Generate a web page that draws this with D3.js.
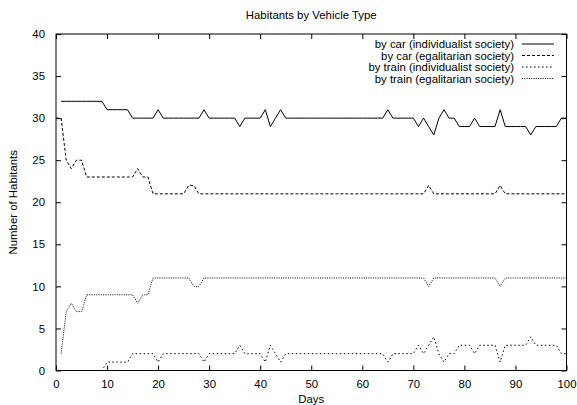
<!DOCTYPE html>
<html lang="en">
<head>
  <meta charset="UTF-8" />
  <title>Habitants by Vehicle Type</title>
  <script src="https://d3js.org/d3.v7.min.js"></script>
  <style>
    html, body {
      margin: 0;
      padding: 0;
      background: #fff;
    }
    svg text {
      font-family: "Liberation Sans", Arial, sans-serif;
      font-size: 11.4px;
      fill: #000;
    }
    .line {
      fill: none;
      stroke: #000;
      stroke-width: 1px;
    }
  </style>
</head>
<body>
<div id="chart"></div>
<script>
// days (x values) for each series
const daysCarIndiv = d3.range(1, 101);
const daysCarEgal = d3.range(0, 101);
const daysTrainIndiv = d3.range(1, 101);
const daysTrainEgal = d3.range(1, 101);

// number of habitants per day
const carIndiv = [
  32, 32, 32, 32, 32, 32, 32, 32, 32, 31,
  31, 31, 31, 31, 30, 30, 30, 30, 30, 31,
  30, 30, 30, 30, 30, 30, 30, 30, 31, 30,
  30, 30, 30, 30, 30, 29, 30, 30, 30, 30,
  31, 29, 30, 31, 30, 30, 30, 30, 30, 30,
  30, 30, 30, 30, 30, 30, 30, 30, 30, 30,
  30, 30, 30, 30, 31, 30, 30, 30, 30, 30,
  29, 30, 29, 28, 30, 31, 30, 30, 29, 29,
  29, 30, 29, 29, 29, 29, 31, 29, 29, 29,
  29, 29, 28, 29, 29, 29, 29, 29, 30, 30
];
const carEgal = [
  30,
  30, 25, 24, 25, 25, 23, 23, 23, 23, 23,
  23, 23, 23, 23, 23, 24, 23, 23, 21, 21,
  21, 21, 21, 21, 21, 22, 22, 21, 21, 21,
  21, 21, 21, 21, 21, 21, 21, 21, 21, 21,
  21, 21, 21, 21, 21, 21, 21, 21, 21, 21,
  21, 21, 21, 21, 21, 21, 21, 21, 21, 21,
  21, 21, 21, 21, 21, 21, 21, 21, 21, 21,
  21, 21, 22, 21, 21, 21, 21, 21, 21, 21,
  21, 21, 21, 21, 21, 21, 22, 21, 21, 21,
  21, 21, 21, 21, 21, 21, 21, 21, 21, 21
];
const trainIndiv = [
  0, 0, 0, 0, 0, 0, 0, 0, 0, 1,
  1, 1, 1, 1, 2, 2, 2, 2, 2, 1,
  2, 2, 2, 2, 2, 2, 2, 2, 1, 2,
  2, 2, 2, 2, 2, 3, 2, 2, 2, 2,
  1, 3, 2, 1, 2, 2, 2, 2, 2, 2,
  2, 2, 2, 2, 2, 2, 2, 2, 2, 2,
  2, 2, 2, 2, 1, 2, 2, 2, 2, 2,
  3, 2, 3, 4, 2, 1, 2, 2, 3, 3,
  3, 2, 3, 3, 3, 3, 1, 3, 3, 3,
  3, 3, 4, 3, 3, 3, 3, 3, 2, 2
];
const trainEgal = [
  2, 7, 8, 7, 7, 9, 9, 9, 9, 9,
  9, 9, 9, 9, 9, 8, 9, 9, 11, 11,
  11, 11, 11, 11, 11, 11, 10, 10, 11, 11,
  11, 11, 11, 11, 11, 11, 11, 11, 11, 11,
  11, 11, 11, 11, 11, 11, 11, 11, 11, 11,
  11, 11, 11, 11, 11, 11, 11, 11, 11, 11,
  11, 11, 11, 11, 11, 11, 11, 11, 11, 11,
  11, 11, 10, 11, 11, 11, 11, 11, 11, 11,
  11, 11, 11, 11, 11, 11, 10, 11, 11, 11,
  11, 11, 11, 11, 11, 11, 11, 11, 11, 11
];

const seriesNames = [
  "by car (individualist society)",
  "by car (egalitarian society)",
  "by train (individualist society)",
  "by train (egalitarian society)"
];
const xTicks = [0, 10, 20, 30, 40, 50, 60, 70, 80, 90, 100];
const yTicks = [0, 5, 10, 15, 20, 25, 30, 35, 40];

const W = 577, H = 405;
const plotLeft = 56, plotRight = 566.5, plotTop = 34, plotBottom = 370.5;

const svg = d3.select("#chart").append("svg")
  .attr("width", W)
  .attr("height", H);

const x = d3.scaleLinear().domain([0, 100]).range([plotLeft, plotRight]);
const y = d3.scaleLinear().domain([0, 40]).range([plotBottom, plotTop]);

// gnuplot style: ticks inward on all four sides
const tickLen = 5;
svg.append("g").attr("transform", `translate(0,${plotBottom})`)
  .call(d3.axisBottom(x).tickValues(xTicks).tickSizeInner(-tickLen).tickSizeOuter(0).tickPadding(9))
  .call(g => g.select(".domain").remove());
svg.append("g").attr("transform", `translate(0,${plotTop})`)
  .call(d3.axisTop(x).tickValues(xTicks).tickSizeInner(-tickLen).tickSizeOuter(0).tickFormat(""))
  .call(g => g.select(".domain").remove());
svg.append("g").attr("transform", `translate(${plotLeft},0)`)
  .call(d3.axisLeft(y).tickValues(yTicks).tickSizeInner(-tickLen).tickSizeOuter(0).tickPadding(11))
  .call(g => g.select(".domain").remove());
svg.append("g").attr("transform", `translate(${plotRight},0)`)
  .call(d3.axisRight(y).tickValues(yTicks).tickSizeInner(-tickLen).tickSizeOuter(0).tickFormat(""))
  .call(g => g.select(".domain").remove());

svg.selectAll(".tick line").attr("stroke", "#000");
svg.selectAll(".tick text").attr("font-size", null).attr("font-family", null);

svg.append("rect")
  .attr("x", plotLeft).attr("y", plotTop)
  .attr("width", plotRight - plotLeft).attr("height", plotBottom - plotTop)
  .attr("fill", "none").attr("stroke", "#000").attr("stroke-width", 1);

const dashes = [null, "3,2", "1.5,2.5", "1,1.3"];
const series = [
  { days: daysCarIndiv, values: carIndiv },
  { days: daysCarEgal, values: carEgal },
  { days: daysTrainIndiv, values: trainIndiv },
  { days: daysTrainEgal, values: trainEgal }
];

const line = d3.line()
  .x(d => x(d[0]))
  .y(d => y(d[1]));

series.forEach((s, i) => {
  svg.append("path")
    .attr("class", "line")
    .attr("stroke-dasharray", dashes[i])
    .attr("d", line(d3.zip(s.days, s.values)));
});

// legend
const legend = svg.append("g");
seriesNames.forEach((name, i) => {
  const ly = 44 + i * 11.5;
  legend.append("text")
    .attr("x", 514).attr("y", ly + 4)
    .attr("text-anchor", "end")
    .text(name);
  legend.append("line")
    .attr("class", "line")
    .attr("x1", 522).attr("x2", 554)
    .attr("y1", ly).attr("y2", ly)
    .attr("stroke-dasharray", dashes[i]);
});

svg.append("text")
  .attr("x", (plotLeft + plotRight) / 2).attr("y", 19)
  .attr("text-anchor", "middle")
  .text("Habitants by Vehicle Type");

svg.append("text")
  .attr("x", (plotLeft + plotRight) / 2).attr("y", 403)
  .attr("text-anchor", "middle")
  .text("Days");

svg.append("text")
  .attr("transform", `translate(17,${(plotTop + plotBottom) / 2}) rotate(-90)`)
  .attr("text-anchor", "middle")
  .text("Number of Habitants");
</script>
</body>
</html>
